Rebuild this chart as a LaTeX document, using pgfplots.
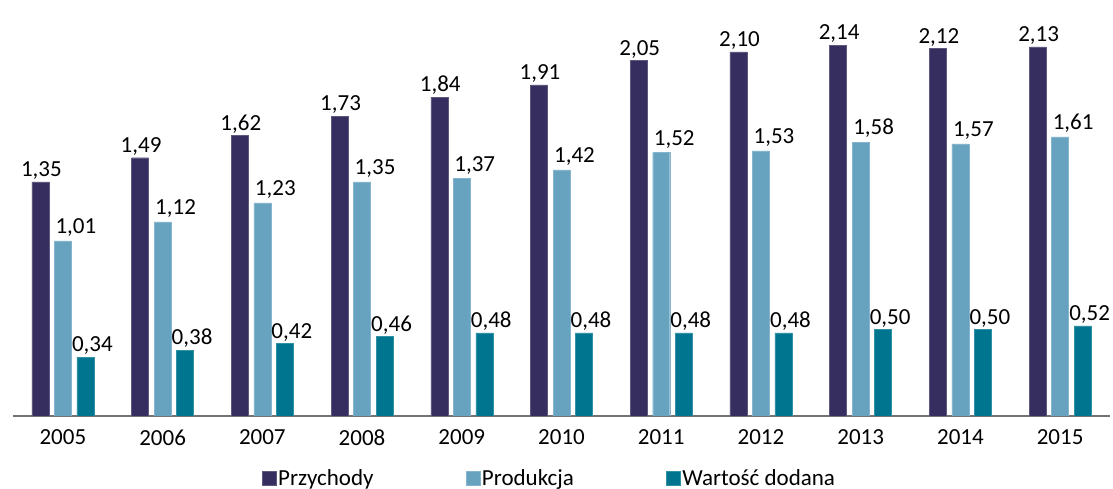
\documentclass[border=0pt]{standalone}
\usepackage{pgfplots}
\pgfplotsset{compat=1.18}
\usepackage{fontspec}
\setmainfont{Carlito}
\definecolor{cA}{HTML}{352E5E}
\definecolor{cB}{HTML}{67A3BF}
\definecolor{cC}{HTML}{00758F}
\begin{document}
\begin{tikzpicture}
\begin{axis}[
  scale only axis, width=1097pt, height=416pt,
  xmin=-0.5, xmax=10.5, ymin=0, ymax=2.4,
  ybar=5.5pt, bar width=17pt,
  axis x line=bottom, axis y line=none,
  x axis line style={-, draw=black!55, line width=1.3pt},
  xtick=data, xticklabels={2005,2006,2007,2008,2009,2010,2011,2012,2013,2014,2015},
  xtick style={draw=none},
  ticklabel style={font=\fontsize{23}{26}\selectfont},
  xticklabel style={yshift=-8pt},
  /pgf/number format/assume math mode=true,
  nodes near coords,
  nodes near coords style={font=\fontsize{23}{26}\selectfont, inner sep=2pt,
    /pgf/number format/use comma, /pgf/number format/fixed,
    /pgf/number format/fixed zerofill, /pgf/number format/precision=2},
  legend style={at={(0.489,-0.149)}, anchor=center, draw=none, legend columns=3,
    font=\fontsize{23}{26}\selectfont, inner sep=0pt,
    /tikz/every even column/.append style={column sep=90pt},
    nodes={inner xsep=2pt}},
  legend image code/.code={\fill[#1] (0pt,-7pt) rectangle (14pt,7pt);},
]
\addplot[fill=cA, draw=cA!80!white, nodes near coords style={xshift=1pt}] coordinates {(0,1.35)(1,1.49)(2,1.62)(3,1.73)(4,1.84)(5,1.91)(6,2.05)(7,2.10)(8,2.14)(9,2.12)(10,2.13)};
\addplot[fill=cB, draw=cB!80!white, nodes near coords style={xshift=13pt, yshift=2pt}] coordinates {(0,1.01)(1,1.12)(2,1.23)(3,1.35)(4,1.37)(5,1.42)(6,1.52)(7,1.53)(8,1.58)(9,1.57)(10,1.61)};
\addplot[fill=cC, draw=cC!80!white, nodes near coords style={xshift=7pt}] coordinates {(0,0.34)(1,0.38)(2,0.42)(3,0.46)(4,0.48)(5,0.48)(6,0.48)(7,0.48)(8,0.50)(9,0.50)(10,0.52)};
\legend{Przychody, Produkcja, Wartość dodana}
\end{axis}
\pgfresetboundingbox
\path ([xshift=-13pt,yshift=-73pt]current axis.south west) rectangle ([xshift=3pt]current axis.north east);
\end{tikzpicture}
\end{document}
